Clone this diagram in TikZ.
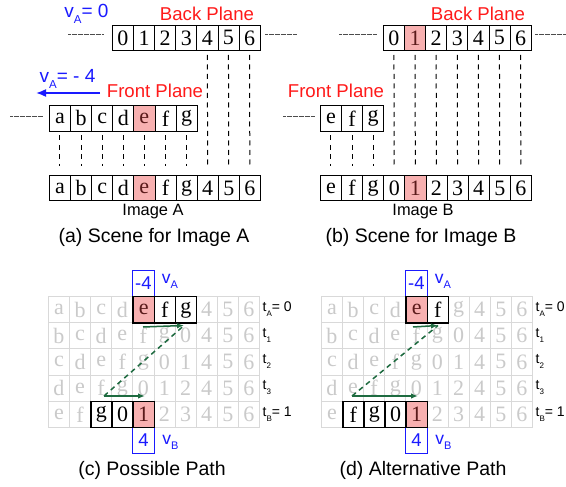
\documentclass[tikz,border=0pt]{standalone}
\usepackage{fontspec}
\setmainfont{Liberation Serif}
\setsansfont{Liberation Sans}
\usetikzlibrary{arrows.meta}

\definecolor{pinkfill}{HTML}{F7B0B0}
\definecolor{pinktext}{HTML}{5A1A1A}
\definecolor{ghostline}{HTML}{D9D9D9}
\definecolor{ghosttext}{HTML}{CACACA}
\definecolor{pathgreen}{HTML}{1E6B40}
\definecolor{labelred}{HTML}{FF1A1A}
\definecolor{labelblue}{HTML}{1A1AFF}

% subscript used in the sans labels: size, drop, letter
\newcommand\lowsub[3]{\raisebox{-#2}{\fontsize{#1}{#1}\selectfont #3}}

\tikzset{
  cellfont/.style={font=\fontsize{22}{22}\selectfont\rmfamily},
  cell/.style={draw=black, line width=0.8pt, minimum width=21.1pt, minimum height=25.4pt,
    inner sep=0pt, anchor=north west, cellfont},
  plain/.style={},
  pinkcell/.style={fill=pinkfill, text=pinktext},
  ghost/.style={draw=ghostline, line width=0.8pt, text=ghosttext, minimum width=21.1pt,
    minimum height=26.2pt, inner sep=0pt, anchor=north west, cellfont},
  hcell/.style={draw=black, line width=1.4pt, fill=white, minimum width=21.1pt,
    minimum height=26.2pt, inner sep=0pt, anchor=north west, cellfont},
  vbox/.style={draw=labelblue, line width=1pt, text=labelblue, minimum width=21.1pt,
    minimum height=26.2pt, inner sep=0pt, anchor=north west, font=\fontsize{18.5}{18.5}\selectfont\sffamily},
  redlbl/.style={text=labelred, font=\fontsize{18.6}{20}\selectfont\sffamily, inner sep=0pt},
  bluelbl/.style={text=labelblue, font=\fontsize{19}{21}\selectfont\sffamily, inner sep=0pt},
  caption/.style={font=\fontsize{19.5}{21}\selectfont\sffamily, inner sep=0pt},
  imglbl/.style={font=\fontsize{16.4}{18}\selectfont\sffamily, inner sep=0pt},
  tlbl/.style={font=\fontsize{14}{16}\selectfont\sffamily, inner sep=0pt, anchor=west},
  vdash/.style={draw=black, line width=1pt, dash pattern=on 5pt off 4.5pt,
    shorten <=4pt, shorten >=9pt},
  leader/.style={draw=black!70, line width=1pt, dash pattern=on 0.6pt off 0.6pt},
  bluearrow/.style={draw=labelblue, line width=1.6pt, -{Latex[length=10pt,width=8pt]}},
  grarrow/.style={draw=pathgreen, line width=1.5pt, -{Latex[length=7pt,width=5.5pt]}},
  grdash/.style={draw=pathgreen, line width=1.5pt, dash pattern=on 5pt off 4pt},
}

\begin{document}
\begin{tikzpicture}[x=1pt, y=-1pt]
\useasboundingbox[fill=white] (0,0) rectangle (566,487);

% ---------------- (a) Scene for Image A ----------------
\foreach \t/\s [count=\i] in {0/plain,1/plain,2/plain,3/plain,4/plain,5/plain,6/plain}
  \node[cell,\s] (ab\i) at ({112+21.1*(\i-1)},24.8) {\t};
\foreach \t/\s [count=\i] in {a/plain,b/plain,c/plain,d/plain,e/pinkcell,f/plain,g/plain}
  \node[cell,\s] (af\i) at ({49+21.1*(\i-1)},105.2) {\t};
\foreach \t/\s [count=\i] in {a/plain,b/plain,c/plain,d/plain,e/pinkcell,f/plain,g/plain,4/plain,5/plain,6/plain}
  \node[cell,\s] (ai\i) at ({49+21.1*(\i-1)},175) {\t};

\foreach \i in {1,...,7} \draw[vdash] (af\i.south) -- (ai\i.north);
\draw[vdash] (ab5.south) -- (ai8.north);
\draw[vdash] (ab6.south) -- (ai9.north);
\draw[vdash] (ab7.south) -- (ai10.north);

\coordinate (aL1) at (68,35);  \coordinate (aL2) at (103,35);
\coordinate (aR1) at (265,35); \coordinate (aR2) at (297,35);
\coordinate (aF1) at (10,117); \coordinate (aF2) at (43,117);
\draw[leader] (aL1) -- (aL2);
\draw[leader] (aR1) -- (aR2);
\draw[leader] (aF1) -- (aF2);

\node[bluelbl] (va0) at (86.5,14) {v\lowsub{11.5}{0.55ex}{A}= 0};
\node[bluelbl] (va4) at (67.5,79) {v\lowsub{11.5}{0.55ex}{A}= - 4};
\coordinate (vaTail) at (100,93);
\coordinate (vaHead) at (36,93);
\draw[bluearrow] (vaTail) -- (vaHead);

\node[redlbl] (abl) at (207,14) {Back Plane};
\node[redlbl] (afl) at (155,91) {Front Plane};
\node[imglbl] (ail) at (153,212) {Image A};
\node[caption] (acap) at (154,237) {(a) Scene for Image A};

% ---------------- (b) Scene for Image B ----------------
\foreach \t/\s [count=\i] in {0/plain,1/pinkcell,2/plain,3/plain,4/plain,5/plain,6/plain}
  \node[cell,\s] (bb\i) at ({383+21.1*(\i-1)},24.8) {\t};
\foreach \t/\s [count=\i] in {e/plain,f/plain,g/plain}
  \node[cell,\s] (bf\i) at ({320+21.1*(\i-1)},105.2) {\t};
\foreach \t/\s [count=\i] in {e/plain,f/plain,g/plain,0/plain,1/pinkcell,2/plain,3/plain,4/plain,5/plain,6/plain}
  \node[cell,\s] (bi\i) at ({320+21.1*(\i-1)},175) {\t};

\foreach \i in {1,...,3} \draw[vdash] (bf\i.south) -- (bi\i.north);
\foreach \i [evaluate=\i as \j using int(\i+3)] in {1,...,7} \draw[vdash] (bb\i.south) -- (bi\j.north);

\coordinate (bL1) at (339,35); \coordinate (bL2) at (377,35);
\coordinate (bR1) at (535,35); \coordinate (bR2) at (566,35);
\coordinate (bF1) at (283,117); \coordinate (bF2) at (315,117);
\draw[leader] (bL1) -- (bL2);
\draw[leader] (bR1) -- (bR2);
\draw[leader] (bF1) -- (bF2);

\node[redlbl] (bbl) at (478,14) {Back Plane};
\node[redlbl] (bfl) at (336,91) {Front Plane};
\node[imglbl] (bil) at (423,212) {Image B};
\node[caption] (bcap) at (421,237) {(b) Scene for Image B};

% ---------------- shifted-row grids for (c) and (d) ----------------
% \te: last highlighted column of the top row, \bs: first highlighted column of the bottom row
\foreach \gx/\gn/\te/\bs in {48/c/6/2,321/d/5/1} {
  \foreach \row [count=\r from 0] in {{a,b,c,d,e,f,g,4,5,6},{b,c,d,e,f,g,0,4,5,6},
      {c,d,e,f,g,0,1,4,5,6},{d,e,f,g,0,1,2,4,5,6},{e,f,g,0,1,2,3,4,5,6}} {
    \foreach \t [count=\k from 0] in \row {
      \pgfmathtruncatemacro\hid{((\r==0)&&(\k>=4)&&(\k<=\te)) || ((\r==4)&&(\k>=\bs)&&(\k<=4))}
      \node[ghost] (\gn g\r-\k) at ({\gx+21.1*\k},{296+26.2*\r}) {\ifnum\hid=1 \else\t\fi};
    }
  }
  \node[tlbl] (\gn t0) at ({\gx+214.5},309) {t\lowsub{8}{0.6ex}{A}= 0};
  \node[tlbl] (\gn t1) at ({\gx+214.5},335.5) {t\lowsub{8}{0.6ex}{1}};
  \node[tlbl] (\gn t2) at ({\gx+214.5},361.5) {t\lowsub{8}{0.6ex}{2}};
  \node[tlbl] (\gn t3) at ({\gx+214.5},387.5) {t\lowsub{8}{0.6ex}{3}};
  \node[tlbl] (\gn t4) at ({\gx+214.5},414) {t\lowsub{8}{0.6ex}{B}= 1};
  \node[vbox] (\gn vtop) at ({\gx+84.4},269.8) {-4};
  \node[vbox] (\gn vbot) at ({\gx+84.4},427) {4};
  \node[bluelbl, font=\fontsize{17.5}{19}\selectfont\sffamily] (\gn va) at ({\gx+122},281) {v\lowsub{11}{0.55ex}{A}};
  \node[bluelbl, font=\fontsize{17.5}{19}\selectfont\sffamily] (\gn vb) at ({\gx+122.5},442) {v\lowsub{11}{0.55ex}{B}};
}

% ---------------- (c) Possible Path ----------------
\node[hcell,pinkcell] (ce) at (132.4,296) {e};
\node[hcell] (cf) at (153.5,296) {f};
\node[hcell] (cgg) at (174.6,296) {g};
\node[hcell] (cg) at (90.2,400.8) {g};
\node[hcell] (c0) at (111.3,400.8) {0};
\node[hcell,pinkcell] (c1) at (132.4,400.8) {1};

\coordinate (cTs) at (143,327);  \coordinate (cTe) at (184,325.5);
\coordinate (cBs) at (104,396);  \coordinate (cBe) at (145,396);
\draw[grdash] (cBs) -- (cTe);
\draw[grarrow] (cTs) -- (cTe);
\draw[grarrow] (cBs) -- (cBe);
\node[caption] (ccap) at (152,470) {(c) Possible Path};

% ---------------- (d) Alternative Path ----------------
\node[hcell,pinkcell] (de) at (405.4,296) {e};
\node[hcell] (df) at (426.5,296) {f};
\node[hcell] (dff) at (342.1,400.8) {f};
\node[hcell] (dg) at (363.2,400.8) {g};
\node[hcell] (d0) at (384.3,400.8) {0};
\node[hcell,pinkcell] (d1) at (405.4,400.8) {1};

\coordinate (dTs) at (413,327);  \coordinate (dTe) at (438,325.5);
\coordinate (dBs) at (352,396);  \coordinate (dBe) at (418,396);
\draw[grdash] (dBs) -- (dTe);
\draw[grarrow] (dTs) -- (dTe);
\draw[grarrow] (dBs) -- (dBe);
\node[caption] (dcap) at (423,470) {(d) Alternative Path};
\end{tikzpicture}
\end{document}
